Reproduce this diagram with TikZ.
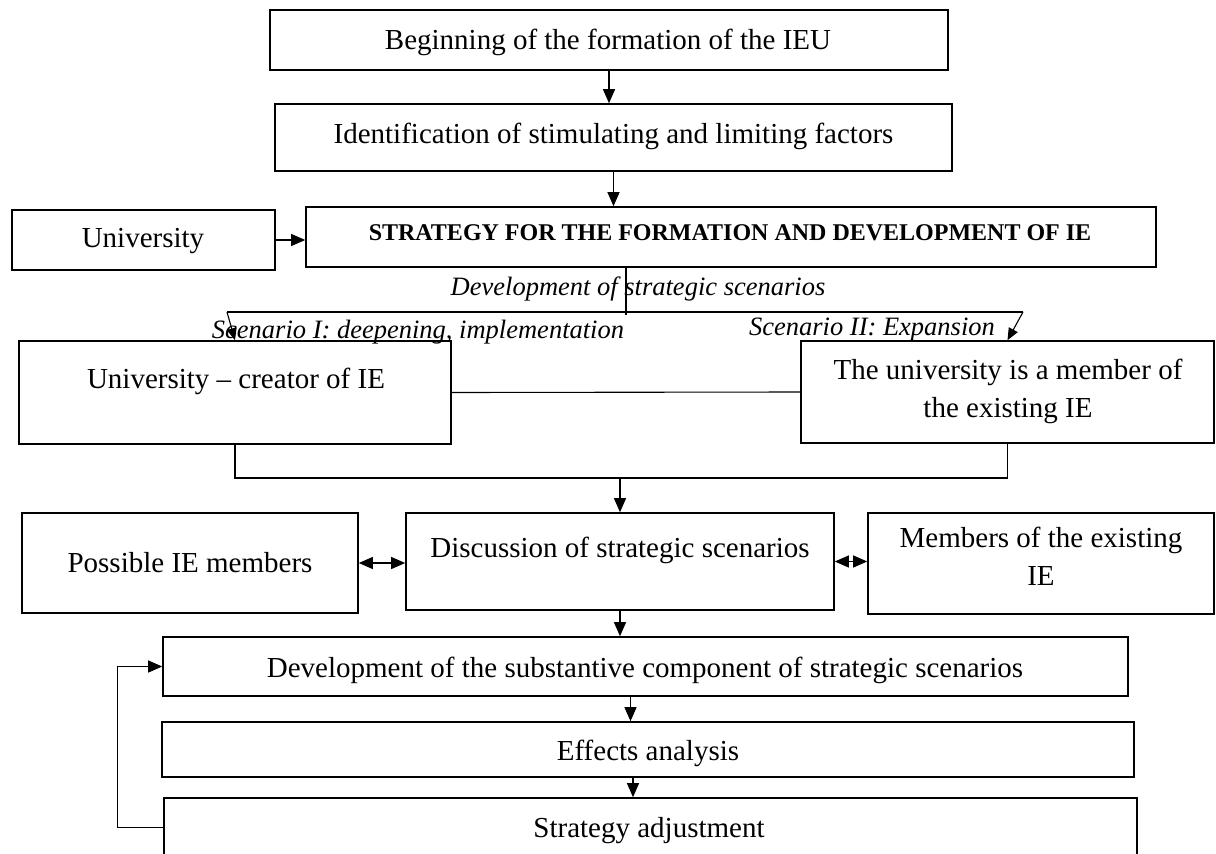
\documentclass[tikz,border=0pt]{standalone}
\usepackage{fontspec}
\setmainfont{Liberation Serif}
\usetikzlibrary{arrows.meta}
\begin{document}
\begin{tikzpicture}[x=1pt,y=-1pt,
  box/.style={draw, line width=1.6pt, rectangle, inner sep=0pt},
  lbl/.style={anchor=base, inner sep=0pt, align=center, font=\fontsize{29}{38}\selectfont},
  capt/.style={anchor=base, inner sep=0pt, font=\fontsize{26.5}{32}\selectfont\itshape},
  conn/.style={line width=1.1pt},
  arr/.style={conn, -{Triangle[length=14pt,width=12pt]}},
  sarr/.style={conn, -{Triangle[length=12pt,width=10pt]}},
  darr/.style={conn, {Triangle[length=14pt,width=12pt]}-{Triangle[length=14pt,width=12pt]}},
]
\clip (0,0) rectangle (1216,854);
\fill[white] (0,0) rectangle (1216,854);

% boxes
\node[box, minimum width=678pt, minimum height=60pt] (b1) at (609,40) {};
\node[box, minimum width=677pt, minimum height=67pt] (b2) at (613.5,137.5) {};
\node[box, minimum width=263pt, minimum height=60pt] (univ) at (143.5,240) {};
\node[box, minimum width=850pt, minimum height=60pt] (strat) at (731,237) {};
\node[box, minimum width=432pt, minimum height=103pt] (creator) at (235,392.5) {};
\node[box, minimum width=413pt, minimum height=102pt] (member) at (1007.5,392) {};
\node[box, minimum width=336pt, minimum height=100pt] (possible) at (190,563) {};
\node[box, minimum width=428pt, minimum height=97pt] (disc) at (620,561.5) {};
\node[box, minimum width=346pt, minimum height=101pt] (members) at (1041,563.5) {};
\node[box, minimum width=965pt, minimum height=59pt] (devsub) at (645.5,666.5) {};
\node[box, minimum width=972pt, minimum height=55pt] (effects) at (648,749.5) {};
\node[box, minimum width=973pt, minimum height=82pt] (adjust) at (650.5,839) {};

% box texts (two-line texts are anchored at the baseline of their last line)
\node[lbl] (t1) at (608,49) {Beginning of the formation of the IEU};
\node[lbl] (t2) at (613.5,143) {Identification of stimulating and limiting factors};
\node[lbl] (tuniv) at (143,247) {University};
\node[anchor=base, inner sep=0pt, font=\fontsize{24}{28}\selectfont\bfseries] (tstrat) at (730,240) {STRATEGY FOR THE FORMATION AND DEVELOPMENT OF IE};
\node[lbl] (tcreator) at (236,388) {University – creator of IE};
\node[lbl] (tmember) at (1008,417) {The university is a member of\\the existing IE};
\node[lbl] (tpossible) at (190,572) {Possible IE members};
\node[lbl] (tdisc) at (620,557) {Discussion of strategic scenarios};
\node[lbl] (tmembers) at (1041,585) {Members of the existing\\IE};
\node[lbl] (tdevsub) at (645,677) {Development of the substantive component of strategic scenarios};
\node[lbl] (teffects) at (648,760) {Effects analysis};
\node[lbl] (tadjust) at (649,837) {Strategy adjustment};

% italic captions
\node[capt] (cdev) at (638,295) {Development of strategic scenarios};
\node[capt] (cs1) at (418,338) {Scenario I: deepening, implementation};
\node[capt] (cs2) at (872,335) {Scenario II: Expansion};

% main flow
\draw[arr] (b1.south) -- (b1.south |- b2.north);
\draw[arr] (b2.south) -- (b2.south |- strat.north);
\draw[arr] (univ.east) -- (univ.east -| strat.west);

% branching into the two scenarios
\coordinate (fork) at (626,312);
\coordinate (fl) at (227,312);
\coordinate (fr) at (1023,312);
\draw[conn] (fork |- strat.south) -- ([yshift=-3pt]fork);
\draw[conn] (fl) -- (fr);
\draw[sarr] (fl) -- (creator.north);
\draw[sarr] (fr) -- (member.north);
\draw[conn] (creator.east) -- (member.west);

% merging into the discussion
\coordinate (mrg) at (620,478);
\draw[conn] (creator.south) |- (mrg) -| (member.south);
\draw[arr] (mrg) -- (mrg |- disc.north);
\draw[darr] (possible.east) -- (possible.east -| disc.west);
\draw[darr] (disc.east) -- (disc.east -| members.west);

% elaboration and feedback
\draw[arr] (disc.south) -- (disc.south |- devsub.north);
\draw[arr] ([xshift=-15pt]devsub.south) -- ([xshift=-15pt]devsub.south |- effects.north);
\draw[arr] ([xshift=-15pt]effects.south) -- ([xshift=-15pt]effects.south |- adjust.north);
\draw[arr] ([yshift=-30pt]adjust.north west) -- ++(-46,0) |- (devsub.west);
\end{tikzpicture}
\end{document}
